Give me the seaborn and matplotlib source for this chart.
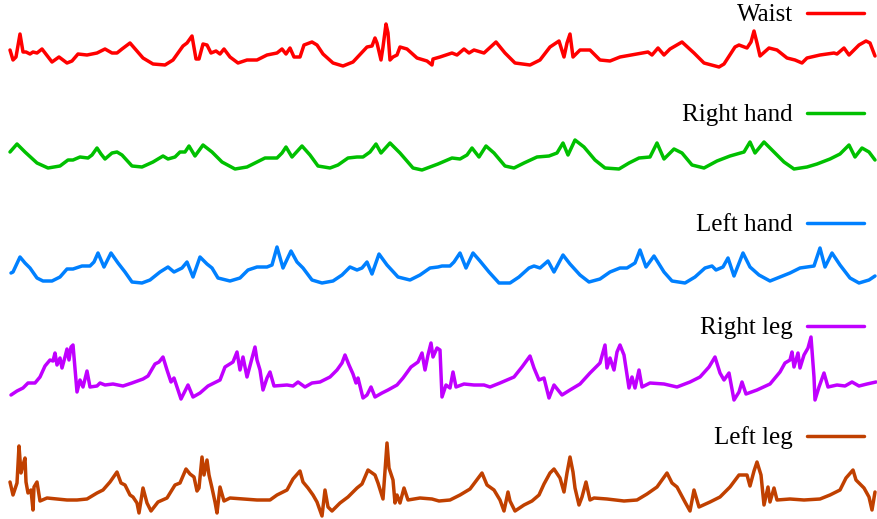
import numpy as np
import matplotlib
matplotlib.use("Agg")
import matplotlib.pyplot as plt
import seaborn as sns

# sensor traces (time in samples, amplitude above each row's floor)
waist_t = [10, 13, 16, 20, 23, 26, 30, 33, 37, 42,
           52, 59, 67, 72, 78, 87, 97, 105, 112, 117,
           122, 130, 143, 153, 165, 173, 183, 187, 192, 196,
           199, 203, 207, 211, 216, 220, 224, 230, 238, 247,
           257, 267, 277, 282, 286, 290, 294, 300, 304, 312,
           317, 323, 333, 343, 353, 367, 372, 375, 377, 381,
           383, 386, 388, 390, 393, 397, 400, 407, 417, 427,
           432, 433, 440, 452, 457, 464, 469, 474, 484, 496,
           505, 515, 530, 540, 550, 559, 564, 567, 570, 573,
           580, 590, 600, 610, 620, 637, 648, 652, 658, 664,
           670, 682, 694, 704, 719, 724, 735, 739, 747, 751,
           754, 757, 760, 769, 777, 787, 795, 802, 807, 820,
           834, 837, 844, 849, 859, 866, 870, 875]
waist_v = [17, 7, 10, 33, 15, 15, 13, 15, 14, 18,
           5, 10, 4, 6, 13, 12, 14, 18, 14, 14,
           18, 24, 9, 3, 2, 7, 21, 24, 31, 8,
           8, 23, 22, 14, 16, 13, 18, 10, 4, 7,
           7, 12, 14, 18, 13, 19, 10, 10, 22, 25,
           22, 13, 4, 1, 5, 20, 21, 29, 24, 7,
           20, 43, 34, 7, 10, 12, 20, 18, 9, 6,
           2, 8, 10, 14, 12, 18, 14, 17, 14, 25,
           14, 4, 2, 7, 20, 26, 10, 24, 33, 10,
           17, 17, 7, 6, 10, 13, 15, 12, 19, 12,
           18, 25, 14, 4, 0, 3, 20, 22, 19, 25,
           36, 24, 11, 19, 17, 9, 7, 4, 9, 12,
           14, 13, 19, 12, 22, 26, 24, 11]

rhand_t = [10, 17, 25, 37, 48, 60, 68, 73, 80, 88,
           92, 97, 101, 105, 112, 117, 122, 132, 142, 153,
           163, 168, 175, 180, 185, 189, 195, 203, 212, 222,
           235, 247, 257, 265, 277, 282, 286, 292, 302, 310,
           318, 330, 338, 348, 357, 363, 370, 376, 381, 390,
           400, 413, 422, 430, 438, 452, 460, 467, 472, 479,
           486, 494, 505, 514, 524, 537, 549, 557, 563, 568,
           575, 584, 595, 605, 619, 629, 639, 650, 657, 664,
           674, 682, 692, 704, 717, 730, 744, 750, 755, 764,
           770, 784, 794, 807, 817, 830, 840, 849, 855, 862,
           869, 875]
rhand_v = [18, 26, 18, 7, 2, 4, 10, 10, 13, 12,
           15, 22, 16, 11, 17, 18, 15, 4, 3, 8,
           14, 11, 13, 18, 18, 24, 14, 25, 18, 8,
           1, 3, 8, 12, 12, 17, 23, 13, 24, 15,
           4, 2, 5, 12, 13, 13, 18, 26, 17, 27,
           17, 2, 0, 3, 6, 12, 11, 15, 22, 13,
           24, 17, 4, 2, 7, 13, 14, 17, 27, 15,
           30, 23, 10, 2, 1, 7, 12, 13, 27, 11,
           21, 17, 5, 2, 9, 14, 18, 28, 17, 28,
           22, 8, 1, 3, 6, 11, 16, 25, 13, 22,
           18, 10]

lhand_t = [11, 13, 20, 25, 30, 37, 43, 52, 60, 67,
           73, 82, 90, 94, 98, 104, 111, 118, 125, 132,
           142, 150, 160, 168, 174, 182, 187, 193, 200, 207,
           212, 218, 230, 240, 248, 257, 267, 272, 277, 283,
           291, 297, 303, 312, 322, 333, 342, 350, 357, 362,
           367, 372, 379, 387, 398, 410, 420, 430, 438, 442,
           450, 454, 460, 466, 473, 480, 489, 499, 510, 519,
           529, 534, 540, 548, 554, 563, 570, 580, 589, 600,
           610, 620, 627, 635, 640, 646, 654, 664, 672, 685,
           695, 705, 712, 716, 723, 728, 734, 743, 750, 759,
           770, 780, 790, 800, 814, 820, 825, 832, 840, 850,
           859, 869, 875]
lhand_v = [10, 11, 26, 20, 15, 5, 2, 2, 6, 14,
           14, 17, 17, 21, 30, 16, 30, 20, 11, 1,
           0, 3, 11, 16, 11, 15, 21, 6, 26, 19,
           15, 5, 2, 5, 13, 16, 16, 18, 36, 15,
           32, 21, 15, 3, 0, 2, 8, 16, 13, 15,
           21, 9, 29, 18, 6, 3, 8, 15, 16, 17,
           17, 21, 30, 15, 30, 22, 11, 0, 0, 6,
           15, 17, 15, 22, 11, 28, 19, 8, 1, 4,
           11, 15, 15, 20, 33, 16, 27, 11, 2, 0,
           6, 15, 17, 13, 16, 25, 7, 30, 16, 8,
           2, 6, 10, 15, 17, 35, 16, 30, 18, 5,
           0, 3, 7]

rleg_t = [11, 17, 23, 28, 35, 40, 45, 50, 53, 55,
          57, 60, 62, 65, 67, 69, 71, 73, 77, 80,
          83, 87, 90, 97, 100, 105, 113, 123, 132, 143,
          148, 155, 159, 163, 167, 171, 174, 177, 181, 188,
          193, 200, 208, 220, 225, 233, 237, 240, 243, 247,
          252, 255, 257, 260, 263, 267, 270, 274, 287, 293,
          298, 305, 312, 320, 330, 337, 342, 345, 349, 353,
          356, 358, 363, 367, 371, 375, 382, 388, 397, 403,
          411, 418, 422, 425, 428, 431, 433, 437, 440, 442,
          446, 450, 453, 456, 464, 474, 484, 490, 500, 514,
          522, 530, 534, 539, 544, 549, 554, 562, 570, 580,
          590, 600, 605, 607, 610, 614, 617, 620, 624, 629,
          632, 635, 639, 642, 650, 664, 677, 690, 700, 709,
          715, 720, 724, 729, 734, 739, 742, 746, 757, 770,
          780, 785, 790, 792, 794, 798, 800, 804, 808, 811,
          814, 815, 819, 824, 828, 837, 845, 852, 859, 867,
          876]
rleg_v = [5, 9, 12, 17, 17, 23, 34, 40, 39, 47,
          35, 42, 32, 43, 51, 40, 53, 55, 8, 20,
          13, 29, 13, 14, 17, 15, 16, 14, 17, 21,
          24, 36, 38, 43, 30, 18, 22, 13, 1, 15,
          3, 7, 14, 20, 33, 38, 48, 30, 43, 23,
          42, 53, 40, 30, 10, 22, 28, 14, 15, 14,
          18, 13, 17, 18, 23, 30, 37, 45, 35, 26,
          17, 22, 2, 5, 13, 3, 7, 10, 15, 22,
          33, 38, 47, 30, 45, 57, 43, 52, 50, 3,
          15, 12, 28, 13, 16, 15, 15, 13, 17, 23,
          33, 44, 32, 20, 22, 2, 15, 5, 10, 16,
          27, 37, 55, 32, 42, 30, 48, 55, 45, 12,
          23, 12, 30, 13, 17, 16, 13, 18, 23, 33,
          43, 27, 20, 27, 0, 8, 18, 6, 10, 16,
          28, 37, 40, 48, 33, 47, 32, 45, 52, 63,
          23, 0, 13, 27, 13, 15, 14, 18, 14, 16,
          18]

lleg_t = [10, 13, 17, 19, 21, 23, 25, 26, 28, 31,
          33, 34, 37, 40, 47, 57, 67, 77, 87, 97,
          103, 110, 117, 121, 125, 130, 133, 137, 139, 143,
          147, 151, 158, 167, 175, 180, 186, 190, 194, 197,
          199, 202, 204, 207, 209, 212, 215, 217, 220, 224,
          230, 243, 257, 270, 277, 287, 293, 300, 303, 308,
          313, 317, 322, 325, 328, 332, 340, 348, 357, 362,
          368, 375, 378, 383, 387, 389, 393, 395, 397, 400,
          404, 408, 420, 432, 439, 450, 460, 470, 476, 482,
          487, 494, 500, 504, 508, 510, 515, 524, 532, 539,
          544, 550, 554, 560, 564, 567, 570, 573, 575, 579,
          582, 586, 590, 594, 607, 624, 637, 647, 657, 667,
          672, 677, 685, 690, 694, 699, 710, 720, 730, 739,
          747, 750, 754, 757, 761, 764, 768, 770, 774, 777,
          790, 804, 820, 830, 840, 846, 853, 856, 864, 869,
          872, 875]
lleg_v = [31, 18, 30, 67, 40, 48, 55, 31, 20, 23,
          3, 26, 31, 12, 15, 14, 13, 13, 14, 20,
          23, 31, 41, 30, 28, 18, 16, 10, 0, 25,
          10, 2, 11, 15, 28, 30, 44, 39, 36, 22,
          25, 56, 38, 53, 38, 25, 11, 0, 26, 12,
          15, 14, 13, 13, 18, 23, 34, 42, 31, 25,
          18, 11, -3, 23, 6, 2, 10, 16, 25, 29,
          43, 38, 30, 14, 70, 45, 33, 10, 18, 10,
          25, 13, 15, 14, 12, 13, 18, 24, 32, 40,
          28, 23, 13, 2, 21, 12, 2, 8, 12, 18,
          29, 40, 44, 35, 21, 40, 56, 41, 25, 8,
          16, 31, 13, 15, 14, 12, 13, 19, 26, 40,
          30, 26, 11, 2, 23, 6, 11, 16, 26, 38,
          38, 27, 42, 51, 38, 8, 26, 11, 25, 13,
          14, 13, 14, 18, 23, 35, 43, 33, 25, 16,
          3, 21]

labels = ["Waist", "Right hand", "Left hand", "Right leg", "Left leg"]
series = [(waist_t, waist_v), (rhand_t, rhand_v), (lhand_t, lhand_v),
          (rleg_t, rleg_v), (lleg_t, lleg_v)]
colors = ["#ff0000", "#00c000", "#0080ff", "#c000ff", "#c04000"]

# layout in figure pixels: floor of each trace and height of its legend entry
W, H = 877, 519
floors = [67, 170, 283, 400, 513]
legend_y = [15, 115, 225, 328, 438]

sns.set_theme(style="white")
plt.rcParams["font.family"] = ["Liberation Serif", "DejaVu Serif"]

fig = plt.figure(figsize=(W / 100, H / 100), dpi=100)

for (t, v), lab, col, fl, ly in zip(series, labels, colors, floors, legend_y):
    assert len(t) == len(v), lab
    ax = fig.add_axes([0, (H - fl - 6) / H, 1, 100 / H])
    sns.lineplot(x=np.array(t), y=np.array(v), ax=ax, color=col, lw=2.5,
                 estimator=None, label=lab, solid_joinstyle="round")
    ax.set_xlim(0, W)
    ax.set_ylim(-6, 94)
    ax.set_axis_off()
    for ln in ax.lines:
        ln.set_clip_on(False)
    ax.legend(loc="center right", bbox_to_anchor=(864 / W, 1 - ly / H),
              bbox_transform=fig.transFigure, frameon=False, fontsize=18,
              markerfirst=False, handlelength=2.3, handletextpad=0.55,
              borderpad=0, borderaxespad=0, labelcolor="black")

fig.savefig("out.png", dpi=100)
